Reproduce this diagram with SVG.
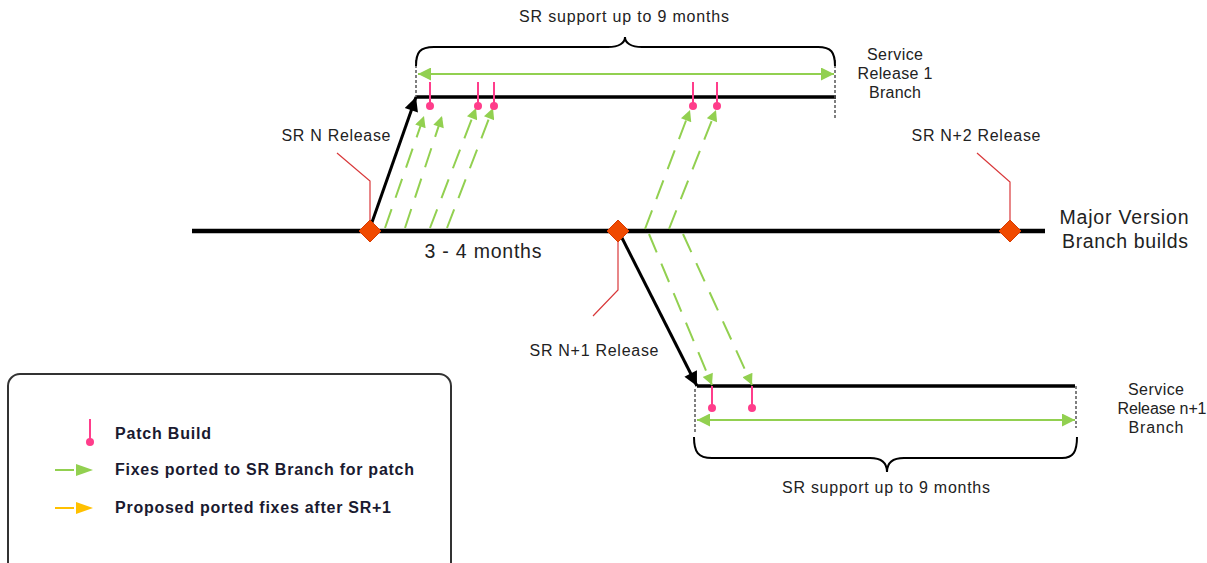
<svg xmlns="http://www.w3.org/2000/svg" width="1207" height="563" viewBox="0 0 1207 563">
<defs>
<style>
.t{font-family:"Liberation Sans",Arial,sans-serif;fill:#222;font-size:16px}
.big{font-size:19.5px}
.lg{font-family:"Liberation Sans",Arial,sans-serif;fill:#1a1a30;font-size:16px;font-weight:bold}
.main{stroke:#000;stroke-width:4.5;fill:none}
.branch{stroke:#000;stroke-width:3.5;fill:none}
.rel{stroke:#000;stroke-width:3;fill:none}
.fix{stroke:#92d050;stroke-width:2;stroke-dasharray:20 12;fill:none}
.span{stroke:#92d050;stroke-width:2;fill:none}
.lead{stroke:#d9383a;stroke-width:1.2;fill:none}
.vdash{stroke:#555;stroke-width:1.5;stroke-dasharray:3 2;fill:none}
.brace{stroke:#000;stroke-width:2;fill:none}
.pin{stroke:#ff3d8b;stroke-width:2}
.dot{fill:#ff3d8b}
.dia{fill:#f04a00;stroke:#d83a00;stroke-width:1}
</style>
<marker id="ga" viewBox="0 0 10 10" refX="10" refY="5" markerWidth="13" markerHeight="11" markerUnits="userSpaceOnUse" orient="auto"><path d="M0,0 L10,5 L0,10 Z" fill="#92d050"/></marker>
<marker id="gs" viewBox="0 0 10 10" refX="10" refY="5" markerWidth="20" markerHeight="13" markerUnits="userSpaceOnUse" orient="auto-start-reverse"><path d="M0,0 L10,5 L0,10 Z" fill="#92d050"/></marker>
<marker id="ba" viewBox="0 0 10 10" refX="10" refY="5" markerWidth="18" markerHeight="14" markerUnits="userSpaceOnUse" orient="auto"><path d="M0,0 L10,5 L0,10 Z" fill="#000"/></marker>
</defs>
<rect width="1207" height="563" fill="#fff"/>

<g id="connectors">
<line class="main" x1="192" y1="231" x2="1045" y2="231"/>
<line class="branch" x1="416" y1="97" x2="836" y2="97"/>
<line class="vdash" x1="416" y1="60" x2="416" y2="97"/>
<line class="vdash" x1="835" y1="60" x2="835" y2="118"/>
<line class="span" x1="418" y1="74" x2="834" y2="74" marker-start="url(#gs)" marker-end="url(#gs)"/>
<path class="brace" d="M416,66 C416,52 420,47 434,47 L608,47 C619,47 625,43 625,37 C625,43 631,47 642,47 L818,47 C831,47 835,52 835,66"/>
<line class="branch" x1="697" y1="386" x2="1075" y2="386"/>
<line class="vdash" x1="695" y1="389" x2="695" y2="434"/>
<line class="vdash" x1="1076" y1="386" x2="1076" y2="428"/>
<line class="span" x1="697" y1="420" x2="1075" y2="420" marker-start="url(#gs)" marker-end="url(#gs)"/>
<path class="brace" d="M694,437 C694,452 698,458 712,458 L870,458 C881,458 887,463 887,472 C887,463 893,458 904,458 L1062,458 C1073,458 1077,452 1077,437"/>
<line class="rel" x1="370" y1="228" x2="416" y2="97" marker-end="url(#ba)"/>
<line class="rel" x1="620" y1="234" x2="697" y2="386" marker-end="url(#ba)"/>
<line class="fix" x1="385" y1="228" x2="424" y2="116" marker-end="url(#ga)"/>
<line class="fix" x1="405" y1="228" x2="442" y2="116" marker-end="url(#ga)"/>
<line class="fix" x1="430" y1="228" x2="476" y2="108" marker-end="url(#ga)"/>
<line class="fix" x1="447" y1="228" x2="493" y2="108" marker-end="url(#ga)"/>
<line class="fix" x1="645" y1="229" x2="690" y2="110" marker-end="url(#ga)"/>
<line class="fix" x1="669" y1="229" x2="716" y2="110" marker-end="url(#ga)"/>
<line class="fix" x1="649" y1="234" x2="712" y2="385" marker-end="url(#ga)"/>
<line class="fix" x1="683" y1="234" x2="752" y2="385" marker-end="url(#ga)"/>
<polyline class="lead" points="337,153 370,181 370,222"/>
<polyline class="lead" points="977,153 1010,182 1010,222"/>
<polyline class="lead" points="618,240 618,290 593,316"/>
</g>

<g id="patch-builds">
<line class="pin" x1="430" y1="82" x2="430" y2="106"/><circle class="dot" cx="430" cy="106" r="4"/>
<line class="pin" x1="478" y1="82" x2="478" y2="106"/><circle class="dot" cx="478" cy="106" r="4"/>
<line class="pin" x1="494" y1="82" x2="494" y2="106"/><circle class="dot" cx="494" cy="106" r="4"/>
<line class="pin" x1="693" y1="82" x2="693" y2="106"/><circle class="dot" cx="693" cy="106" r="4"/>
<line class="pin" x1="717" y1="82" x2="717" y2="106"/><circle class="dot" cx="717" cy="106" r="4"/>
<line class="pin" x1="712" y1="386" x2="712" y2="408"/><circle class="dot" cx="712" cy="408" r="4"/>
<line class="pin" x1="752" y1="386" x2="752" y2="408"/><circle class="dot" cx="752" cy="408" r="4"/>
</g>

<g id="sr-n-release">
<polygon class="dia" points="370,220 381,231 370,242 359,231"/>
<text class="t" x="336" y="141" text-anchor="middle" textLength="109" lengthAdjust="spacing">SR N Release</text>
</g>
<g id="sr-n1-release">
<polygon class="dia" points="618,220 629,231 618,242 607,231"/>
<text class="t" x="594" y="356" text-anchor="middle" textLength="129" lengthAdjust="spacing">SR N+1 Release</text>
</g>
<g id="sr-n2-release">
<polygon class="dia" points="1010,220 1021,231 1010,242 999,231"/>
<text class="t" x="976" y="141" text-anchor="middle" textLength="129" lengthAdjust="spacing">SR N+2 Release</text>
</g>

<g id="major-version">
<text class="t big" x="1124" y="224" text-anchor="middle" textLength="129" lengthAdjust="spacing">Major Version</text>
<text class="t big" x="1125" y="248" text-anchor="middle" textLength="126" lengthAdjust="spacing">Branch builds</text>
<text class="t big" x="483" y="258" text-anchor="middle" textLength="117" lengthAdjust="spacing">3 - 4 months</text>
</g>

<g id="sr1-branch">
<text class="t" x="895" y="60" text-anchor="middle" textLength="56" lengthAdjust="spacing">Service</text>
<text class="t" x="895" y="79" text-anchor="middle" textLength="75" lengthAdjust="spacing">Release 1</text>
<text class="t" x="895" y="98" text-anchor="middle" textLength="52" lengthAdjust="spacing">Branch</text>
<text class="t" x="624" y="22" text-anchor="middle" textLength="210" lengthAdjust="spacing">SR support up to 9 months</text>
</g>

<g id="srn1-branch">
<text class="t" x="1156" y="395" text-anchor="middle" textLength="56" lengthAdjust="spacing">Service</text>
<text class="t" x="1162" y="414" text-anchor="middle" textLength="89" lengthAdjust="spacing">Release n+1</text>
<text class="t" x="1156" y="433" text-anchor="middle" textLength="55" lengthAdjust="spacing">Branch</text>
<text class="t" x="886" y="493" text-anchor="middle" textLength="208" lengthAdjust="spacing">SR support up to 9 months</text>
</g>

<g id="legend">
<rect x="8" y="374" width="443" height="200" rx="12" ry="12" fill="#fff" stroke="#333" stroke-width="2"/>
<line class="pin" x1="90" y1="419" x2="90" y2="441"/><circle class="dot" cx="90" cy="442" r="4"/>
<text class="lg" x="115" y="439" textLength="96" lengthAdjust="spacing">Patch Build</text>
<line x1="55" y1="470" x2="74" y2="470" stroke="#92d050" stroke-width="2"/>
<path d="M76,464 L93,470 L76,476 Z" fill="#92d050"/>
<text class="lg" x="115" y="475" textLength="299" lengthAdjust="spacing">Fixes ported to SR Branch for patch</text>
<line x1="55" y1="508" x2="74" y2="508" stroke="#ffc000" stroke-width="2"/>
<path d="M76,502 L93,508 L76,514 Z" fill="#ffc000"/>
<text class="lg" x="115" y="513" textLength="276" lengthAdjust="spacing">Proposed ported fixes after SR+1</text>
</g>
</svg>
